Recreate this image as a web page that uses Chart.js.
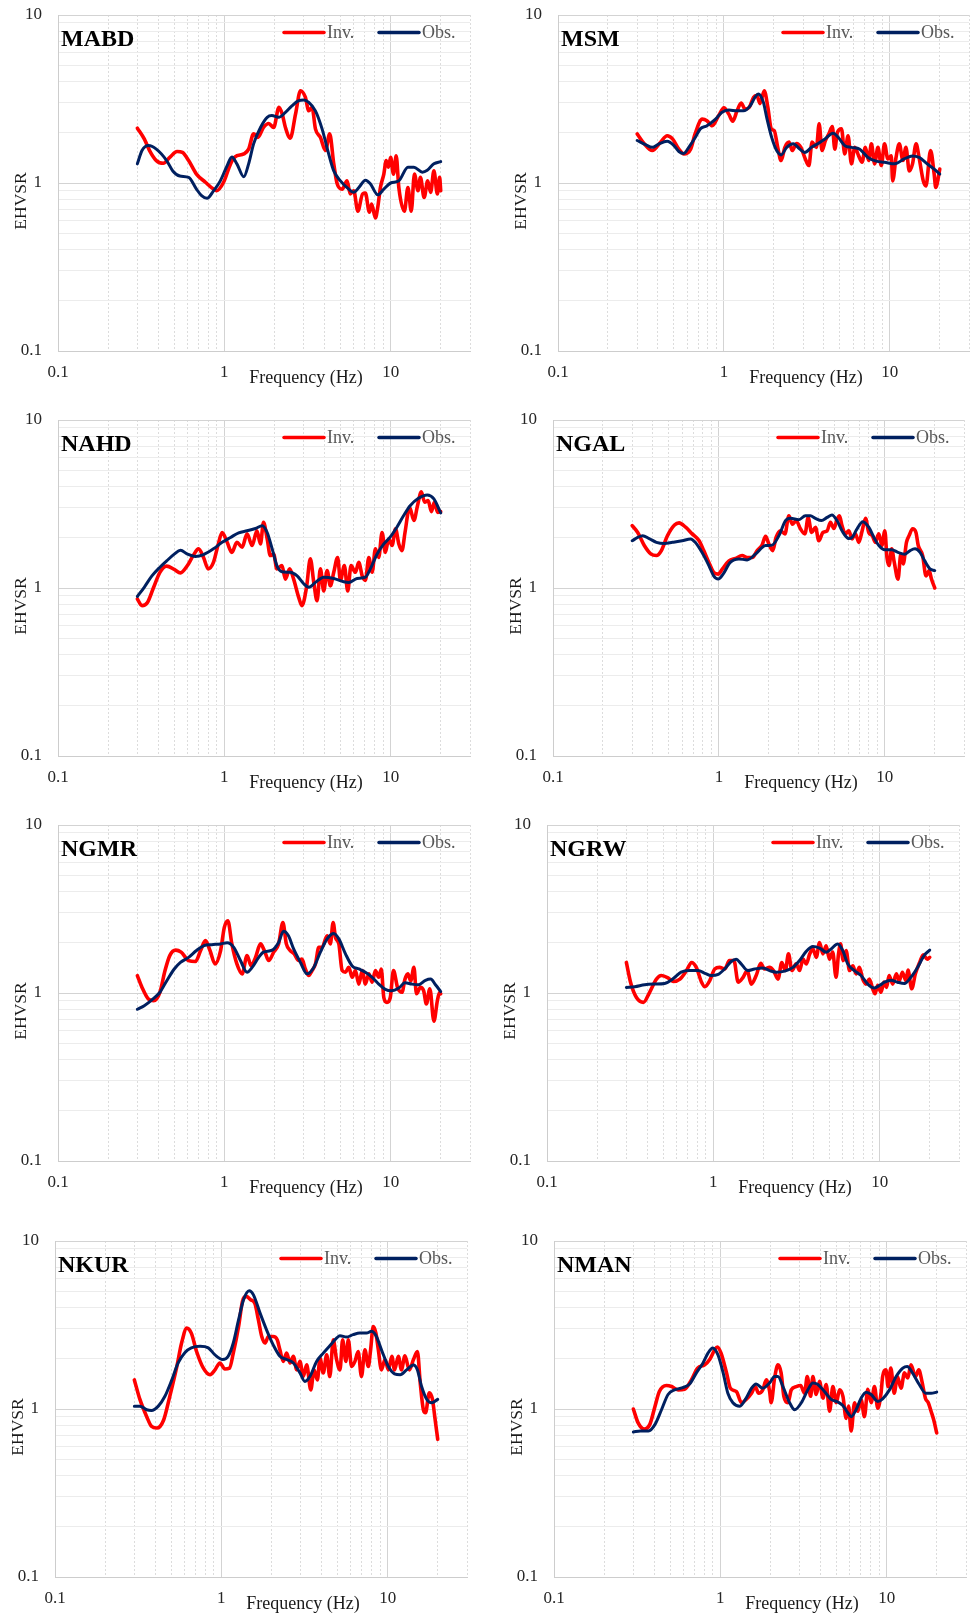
<!DOCTYPE html>
<html>
<head>
<meta charset="utf-8">
<title>EHVSR – observed vs. inverted</title>
<script src="https://cdn.jsdelivr.net/npm/chart.js@4.4.1/dist/chart.umd.min.js"></script>
<style>
  html, body { margin: 0; padding: 0; background: #fff; width: 971px; height: 1618px; overflow: hidden; }
  canvas.panel { position: absolute; display: block; }
</style>
</head>
<body>
<script>
// ---- axis ticks -------------------------------------------------------
const freqTicks  = [0.1,0.2,0.3,0.4,0.5,0.6,0.7,0.8,0.9,1,2,3,4,5,6,7,8,9,10,20,30];
const ratioTicks = [0.1,0.2,0.3,0.4,0.5,0.6,0.7,0.8,0.9,1,2,3,4,5,6,7,8,9,10];
const tickLabels = ['0.1', '1', '10'];
const seriesNames = ['Inv.', 'Obs.'];
const stations = ['MABD', 'MSM', 'NAHD', 'NGAL', 'NGMR', 'NGRW', 'NKUR', 'NMAN'];

// ---- spectral ratios: [frequency (Hz), EHVSR] --------------------------
const mabdObs = [[0.3,1.30],[0.32,1.56],[0.35,1.67],[0.39,1.59],[0.45,1.36],[0.49,1.18],[0.54,1.10],[0.61,1.08],[0.68,0.92],[0.73,0.84],[0.787,0.81],[0.863,0.90],[0.946,1.03],[1.04,1.27],[1.11,1.43],[1.19,1.30],[1.31,1.09],[1.40,1.30],[1.50,1.71],[1.65,2.14],[1.81,2.46],[1.93,2.52],[2.12,2.46],[2.33,2.63],[2.55,2.88],[2.80,3.09],[3.0,3.12],[3.22,3.02],[3.53,2.69],[3.87,2.10],[4.24,1.49],[4.55,1.18],[4.99,1.03],[5.6,0.92],[6.0,0.88],[6.44,0.94],[7.05,1.04],[7.55,0.99],[8.37,0.85],[9.1,0.92],[10,1.0],[11.2,1.03],[12.7,1.24],[13.8,1.24],[15.5,1.16],[16.6,1.19],[18.2,1.30],[20,1.34]];
const mabdInv = [[0.3,2.12],[0.33,1.83],[0.36,1.52],[0.39,1.36],[0.43,1.31],[0.47,1.42],[0.52,1.54],[0.56,1.52],[0.61,1.36],[0.68,1.13],[0.77,1.01],[0.86,0.92],[0.90,0.90],[0.99,1.01],[1.09,1.30],[1.16,1.43],[1.31,1.49],[1.40,1.59],[1.50,1.96],[1.59,1.87],[1.72,2.14],[1.85,2.26],[1.98,2.14],[2.13,2.82],[2.23,2.57],[2.33,2.14],[2.49,1.85],[2.68,2.57],[2.87,3.54],[3.07,3.24],[3.22,2.69],[3.37,2.82],[3.53,2.10],[3.78,1.87],[4.06,1.56],[4.30,1.96],[4.55,1.30],[4.77,0.99],[5.11,0.92],[5.47,1.03],[5.72,0.86],[6.0,0.90],[6.35,0.68],[6.78,0.86],[7.05,0.87],[7.45,0.67],[7.68,0.75],[8.1,0.62],[8.37,0.72],[8.68,0.94],[9.1,1.13],[9.4,1.36],[9.7,1.24],[10,1.42],[10.4,1.13],[10.8,1.45],[11.2,0.94],[12.1,0.68],[12.7,0.94],[13.3,0.68],[13.9,1.13],[14.6,0.90],[15.1,1.08],[15.9,0.82],[16.7,1.03],[17.4,0.88],[18.2,1.18],[19.1,0.86],[19.7,1.08],[20,0.90]];

const msmObs = [[0.3,1.79],[0.337,1.69],[0.37,1.63],[0.406,1.71],[0.455,1.77],[0.5,1.67],[0.535,1.54],[0.573,1.50],[0.614,1.63],[0.673,1.87],[0.72,2.10],[0.79,2.19],[0.89,2.40],[0.97,2.63],[1.07,2.72],[1.20,2.69],[1.31,2.69],[1.44,2.88],[1.54,3.24],[1.61,3.39],[1.73,3.02],[1.81,2.46],[1.94,1.87],[2.08,1.56],[2.21,1.47],[2.39,1.63],[2.62,1.71],[2.87,1.59],[3.07,1.52],[3.37,1.63],[3.70,1.72],[4.06,1.83],[4.55,1.98],[4.88,1.87],[5.35,1.67],[5.87,1.63],[6.59,1.59],[7.39,1.42],[8.28,1.35],[9.29,1.33],[10.7,1.30],[12.2,1.39],[13.7,1.45],[15.0,1.42],[16.8,1.30],[18.5,1.21],[20,1.13]];
const msmInv = [[0.3,1.96],[0.33,1.72],[0.37,1.56],[0.415,1.75],[0.455,1.91],[0.49,1.83],[0.535,1.59],[0.573,1.49],[0.63,1.59],[0.67,1.96],[0.74,2.40],[0.79,2.35],[0.85,2.19],[0.93,2.52],[1.0,2.80],[1.07,2.57],[1.13,2.33],[1.20,2.69],[1.27,2.99],[1.34,2.76],[1.42,2.82],[1.51,3.24],[1.58,3.31],[1.65,2.97],[1.75,3.54],[1.84,2.82],[1.93,2.10],[2.01,2.05],[2.11,1.63],[2.21,1.36],[2.33,1.63],[2.47,1.75],[2.58,1.56],[2.74,1.72],[2.91,1.63],[3.07,1.42],[3.25,1.27],[3.40,1.75],[3.61,1.63],[3.75,2.25],[3.90,1.56],[4.09,1.79],[4.29,1.96],[4.50,2.17],[4.66,1.59],[4.83,2.0],[5.11,2.10],[5.35,1.49],[5.60,1.91],[5.87,1.30],[6.15,1.63],[6.49,1.45],[6.80,1.33],[7.12,1.63],[7.45,1.36],[7.74,1.71],[8.10,1.30],[8.48,1.63],[8.88,1.27],[9.29,1.71],[9.73,1.39],[10.2,1.45],[10.4,1.03],[10.9,1.42],[11.4,1.71],[12.0,1.36],[12.5,1.63],[13.1,1.18],[13.7,1.30],[14.4,1.71],[15.0,1.42],[15.9,1.03],[16.5,0.96],[17.6,1.56],[18.5,1.13],[18.9,0.94],[20,1.21]];

const nahdObs = [[0.3,0.89],[0.33,1.01],[0.367,1.18],[0.41,1.33],[0.45,1.45],[0.5,1.59],[0.545,1.68],[0.60,1.59],[0.67,1.54],[0.75,1.58],[0.86,1.71],[0.97,1.87],[1.09,2.0],[1.22,2.13],[1.37,2.19],[1.54,2.26],[1.69,2.35],[1.81,2.14],[1.94,1.71],[2.07,1.36],[2.22,1.25],[2.49,1.24],[2.74,1.18],[3.0,1.06],[3.22,1.01],[3.53,1.08],[3.96,1.16],[4.55,1.14],[5.22,1.09],[5.6,1.08],[6.28,1.14],[7.05,1.16],[7.55,1.30],[8.28,1.59],[9.1,1.83],[9.9,2.0],[10.9,2.30],[11.95,2.69],[13.1,3.09],[14.7,3.42],[16.6,3.58],[18.2,3.39],[20,2.80]];
const nahdInv = [[0.3,0.86],[0.32,0.785],[0.345,0.82],[0.376,1.01],[0.41,1.24],[0.45,1.35],[0.5,1.29],[0.545,1.23],[0.60,1.36],[0.65,1.56],[0.70,1.71],[0.75,1.52],[0.80,1.30],[0.86,1.42],[0.92,1.83],[0.97,2.14],[1.04,1.87],[1.11,1.63],[1.19,1.87],[1.28,1.75],[1.37,2.10],[1.47,1.79],[1.57,2.19],[1.65,1.83],[1.72,2.46],[1.81,1.96],[1.89,1.56],[1.98,1.59],[2.07,1.30],[2.22,1.36],[2.33,1.13],[2.47,1.30],[2.61,1.13],[2.80,0.88],[2.93,0.785],[3.12,1.01],[3.29,1.49],[3.45,1.08],[3.61,0.84],[3.78,1.30],[3.96,0.96],[4.15,1.27],[4.34,1.03],[4.55,1.24],[4.8,1.52],[4.99,1.11],[5.27,1.36],[5.52,0.96],[5.78,1.36],[6.14,1.24],[6.43,1.42],[6.75,1.18],[7.05,1.11],[7.39,1.52],[7.74,1.24],[8.1,1.71],[8.48,1.52],[8.88,2.14],[9.29,1.63],[9.73,1.96],[10.2,1.79],[10.7,2.25],[11.2,1.83],[11.7,1.67],[12.2,2.14],[13.0,3.02],[13.8,2.52],[14.5,3.09],[15.3,3.74],[16.0,3.24],[16.8,3.31],[17.6,2.85],[18.3,3.24],[19.2,2.82],[20,2.85]];

const ngalObs = [[0.3,1.91],[0.324,2.0],[0.347,2.05],[0.38,1.97],[0.42,1.87],[0.47,1.84],[0.525,1.87],[0.60,1.91],[0.675,1.96],[0.72,1.87],[0.79,1.63],[0.87,1.36],[0.93,1.18],[0.99,1.13],[1.06,1.21],[1.17,1.42],[1.32,1.49],[1.48,1.47],[1.66,1.59],[1.91,1.79],[2.09,1.80],[2.30,2.05],[2.52,2.52],[2.70,2.60],[3.03,2.55],[3.32,2.69],[3.56,2.69],[3.81,2.60],[4.15,2.52],[4.49,2.63],[4.80,2.72],[5.15,2.52],[5.52,2.19],[6.06,1.97],[6.35,2.0],[6.8,2.25],[7.36,2.48],[8.0,2.30],[8.6,2.0],[9.2,1.79],[10.0,1.69],[11.0,1.69],[12.0,1.63],[13.2,1.59],[14.2,1.67],[15.2,1.71],[16.3,1.63],[17.4,1.45],[18.7,1.30],[20,1.27]];
const ngalInv = [[0.3,2.35],[0.324,2.14],[0.355,1.79],[0.39,1.59],[0.42,1.56],[0.45,1.67],[0.49,2.05],[0.54,2.37],[0.575,2.44],[0.63,2.30],[0.69,2.10],[0.76,1.91],[0.81,1.67],[0.87,1.42],[0.93,1.24],[0.99,1.21],[1.05,1.30],[1.15,1.45],[1.26,1.50],[1.38,1.56],[1.48,1.52],[1.59,1.52],[1.70,1.67],[1.82,1.80],[1.91,2.03],[2.0,1.83],[2.11,1.67],[2.21,2.0],[2.35,2.19],[2.50,2.10],[2.64,2.69],[2.77,2.40],[2.92,2.52],[3.10,2.25],[3.30,2.10],[3.45,2.63],[3.62,2.14],[3.82,2.30],[4.0,1.91],[4.23,2.14],[4.49,2.19],[4.70,2.46],[4.93,2.26],[5.16,2.57],[5.33,2.69],[5.52,2.35],[5.78,2.10],[6.06,2.19],[6.35,1.96],[6.65,2.10],[6.97,1.87],[7.30,2.19],[7.65,2.60],[8.0,2.14],[8.4,2.05],[8.75,1.87],[9.2,2.10],[9.6,1.79],[10.0,2.19],[10.3,1.52],[10.6,1.36],[11.0,1.71],[11.4,1.42],[12.0,1.13],[12.5,1.59],[12.9,1.39],[13.5,1.87],[14.0,2.05],[14.7,2.25],[15.4,2.14],[15.9,1.79],[16.9,1.56],[17.7,1.18],[18.5,1.27],[19.1,1.13],[20,1.0]];

const ngmrObs = [[0.3,0.80],[0.33,0.84],[0.367,0.91],[0.41,1.01],[0.45,1.18],[0.5,1.39],[0.545,1.52],[0.61,1.63],[0.68,1.79],[0.75,1.91],[0.84,1.94],[0.95,1.96],[1.04,1.99],[1.14,1.87],[1.25,1.56],[1.37,1.33],[1.47,1.42],[1.61,1.63],[1.72,1.75],[1.94,1.80],[2.12,2.0],[2.27,2.33],[2.43,2.19],[2.61,1.83],[2.87,1.52],[3.14,1.30],[3.45,1.42],[3.78,1.75],[4.15,2.10],[4.55,2.26],[4.88,2.10],[5.35,1.71],[5.87,1.45],[6.44,1.39],[7.05,1.33],[7.74,1.24],[8.48,1.13],[9.29,1.05],[10.1,1.03],[11.2,1.07],[12.2,1.15],[13.4,1.13],[14.7,1.12],[16.2,1.19],[17.4,1.21],[18.6,1.12],[20,1.02]];
const ngmrInv = [[0.3,1.27],[0.32,1.08],[0.35,0.92],[0.376,0.90],[0.41,1.01],[0.44,1.36],[0.47,1.67],[0.51,1.80],[0.55,1.75],[0.61,1.56],[0.67,1.54],[0.72,1.79],[0.77,2.05],[0.82,1.79],[0.88,1.49],[0.95,1.79],[1.0,2.46],[1.05,2.69],[1.11,1.96],[1.19,1.49],[1.28,1.30],[1.37,1.67],[1.45,1.45],[1.54,1.63],[1.65,1.96],[1.74,1.79],[1.85,1.56],[1.98,1.75],[2.12,1.96],[2.25,2.63],[2.36,1.96],[2.49,1.79],[2.63,1.71],[2.80,1.56],[2.93,1.59],[3.07,1.39],[3.22,1.27],[3.37,1.36],[3.53,1.49],[3.70,1.87],[3.87,1.87],[4.15,2.19],[4.34,1.96],[4.51,2.63],[4.66,2.14],[4.88,1.96],[5.11,1.36],[5.35,1.33],[5.6,1.42],[5.87,1.24],[6.14,1.36],[6.44,1.13],[6.75,1.36],[7.05,1.13],[7.39,1.30],[7.74,1.16],[8.1,1.36],[8.48,1.24],[8.78,1.39],[9.1,0.94],[9.5,0.88],[9.95,0.94],[10.4,1.36],[11.0,1.08],[11.7,1.01],[12.2,1.21],[12.7,1.30],[13.2,1.18],[13.8,1.42],[14.3,0.99],[15.1,1.08],[15.8,1.03],[16.4,0.86],[17.2,1.06],[18.2,0.68],[19.1,0.90],[19.7,1.01],[20,0.99]];

const ngrwObs = [[0.3,1.08],[0.337,1.09],[0.387,1.12],[0.44,1.13],[0.51,1.14],[0.57,1.21],[0.64,1.33],[0.72,1.36],[0.81,1.36],[0.89,1.31],[0.97,1.27],[1.07,1.29],[1.17,1.39],[1.28,1.54],[1.37,1.59],[1.47,1.49],[1.61,1.36],[1.77,1.39],[1.99,1.41],[2.18,1.36],[2.39,1.33],[2.69,1.35],[3.01,1.42],[3.30,1.56],[3.62,1.77],[3.97,1.89],[4.35,1.85],[4.77,1.75],[5.11,1.83],[5.6,1.96],[6.0,1.79],[6.43,1.49],[7.05,1.36],[7.73,1.27],[8.48,1.13],[9.29,1.07],[10.0,1.11],[10.7,1.16],[11.7,1.19],[12.8,1.16],[14.1,1.14],[15.4,1.24],[16.9,1.42],[18.5,1.67],[20,1.80]];
const ngrwInv = [[0.3,1.52],[0.32,1.13],[0.345,0.94],[0.38,0.88],[0.414,1.01],[0.455,1.21],[0.487,1.27],[0.534,1.23],[0.573,1.17],[0.63,1.21],[0.69,1.36],[0.74,1.52],[0.79,1.42],[0.85,1.16],[0.89,1.09],[0.95,1.18],[1.02,1.39],[1.09,1.42],[1.17,1.39],[1.25,1.56],[1.33,1.56],[1.41,1.16],[1.51,1.24],[1.60,1.36],[1.69,1.13],[1.81,1.27],[1.93,1.50],[2.03,1.39],[2.18,1.42],[2.31,1.35],[2.45,1.21],[2.58,1.52],[2.71,1.36],[2.83,1.71],[2.97,1.36],[3.15,1.49],[3.30,1.36],[3.46,1.59],[3.62,1.49],[3.80,1.71],[3.97,1.83],[4.16,1.63],[4.35,2.0],[4.56,1.71],[4.77,1.91],[4.99,1.59],[5.22,1.75],[5.47,1.24],[5.66,1.71],[5.82,1.96],[6.04,1.56],[6.29,1.79],[6.59,1.36],[6.90,1.45],[7.22,1.30],[7.56,1.42],[7.91,1.21],[8.28,1.13],[8.67,1.21],[9.08,1.06],[9.38,0.99],[9.73,1.11],[10.2,1.01],[10.6,1.16],[11.0,1.08],[11.4,1.27],[12.0,1.13],[12.6,1.30],[13.1,1.18],[13.7,1.33],[14.4,1.18],[14.8,1.37],[15.6,1.06],[16.4,1.30],[17.4,1.52],[18.3,1.69],[19.3,1.59],[20,1.63]];

const nkurObs = [[0.3,1.04],[0.324,1.04],[0.356,0.99],[0.38,0.98],[0.418,1.04],[0.458,1.19],[0.50,1.46],[0.55,1.88],[0.605,2.17],[0.66,2.31],[0.745,2.36],[0.835,2.31],[0.916,2.10],[1.02,1.97],[1.10,2.06],[1.18,2.47],[1.27,3.40],[1.36,4.47],[1.47,5.06],[1.56,4.78],[1.71,3.72],[1.87,2.96],[2.05,2.41],[2.25,2.06],[2.47,1.97],[2.71,1.88],[2.97,1.64],[3.18,1.46],[3.41,1.56],[3.74,1.92],[4.10,2.15],[4.49,2.38],[4.93,2.64],[5.17,2.73],[5.66,2.68],[6.20,2.77],[6.81,2.83],[7.46,2.83],[7.99,2.90],[8.56,2.70],[9.18,2.25],[10.1,1.79],[11.0,1.62],[11.9,1.60],[13.0,1.71],[14.3,1.83],[15.1,1.71],[16.0,1.36],[17.2,1.14],[18.4,1.09],[20,1.14]];
const nkurInv = [[0.3,1.49],[0.324,1.14],[0.356,0.90],[0.38,0.79],[0.41,0.77],[0.45,0.86],[0.49,1.19],[0.54,1.79],[0.577,2.47],[0.62,3.03],[0.66,2.83],[0.71,2.20],[0.78,1.75],[0.855,1.60],[0.916,1.71],[0.98,1.88],[1.05,1.73],[1.12,1.75],[1.18,2.15],[1.27,3.10],[1.34,4.37],[1.41,4.68],[1.50,4.47],[1.59,4.26],[1.67,3.40],[1.75,2.70],[1.83,2.47],[1.92,2.70],[2.05,2.70],[2.17,2.58],[2.25,2.25],[2.36,1.92],[2.47,2.15],[2.59,1.88],[2.71,2.06],[2.84,1.71],[2.97,1.92],[3.11,1.56],[3.26,1.83],[3.45,1.30],[3.61,1.71],[3.78,1.49],[3.92,2.01],[4.10,1.64],[4.30,2.10],[4.49,1.56],[4.71,2.58],[4.93,1.97],[5.17,1.71],[5.36,2.58],[5.61,1.92],[5.80,2.58],[6.07,1.79],[6.36,1.92],[6.65,2.20],[6.96,1.56],[7.30,2.25],[7.65,1.79],[7.90,2.25],[8.19,3.10],[8.50,2.83],[8.79,2.25],[9.18,1.71],[9.63,1.97],[10.1,1.71],[10.6,2.06],[11.0,1.71],[11.6,2.06],[12.1,1.71],[12.7,2.07],[13.5,1.71],[14.3,1.97],[15.1,2.20],[15.7,1.43],[16.4,0.99],[16.9,0.95],[17.8,1.25],[18.6,1.14],[19.2,0.90],[20,0.66]];

const nmanObs = [[0.3,0.73],[0.33,0.74],[0.37,0.74],[0.405,0.81],[0.443,0.99],[0.485,1.22],[0.53,1.30],[0.58,1.33],[0.654,1.41],[0.718,1.64],[0.787,1.88],[0.843,2.15],[0.90,2.31],[0.968,2.10],[1.04,1.64],[1.11,1.24],[1.19,1.09],[1.31,1.04],[1.43,1.16],[1.54,1.33],[1.64,1.41],[1.80,1.33],[1.98,1.43],[2.12,1.56],[2.22,1.56],[2.38,1.36],[2.61,1.09],[2.80,0.99],[3.07,1.09],[3.36,1.30],[3.60,1.43],[3.86,1.40],[4.23,1.27],[4.64,1.14],[5.09,1.10],[5.45,1.05],[5.84,0.95],[6.12,0.90],[6.55,0.99],[7.02,1.16],[7.53,1.26],[8.07,1.22],[8.84,1.11],[9.46,1.15],[10.4,1.30],[11.4,1.56],[12.5,1.75],[13.3,1.79],[14.3,1.64],[15.7,1.40],[17.2,1.24],[18.5,1.24],[20,1.26]];
const nmanInv = [[0.3,1.0],[0.32,0.83],[0.348,0.76],[0.377,0.81],[0.405,1.04],[0.43,1.27],[0.474,1.38],[0.51,1.36],[0.557,1.30],[0.61,1.31],[0.67,1.49],[0.73,1.75],[0.805,1.83],[0.863,1.97],[0.925,2.25],[0.96,2.34],[1.01,2.15],[1.09,1.64],[1.15,1.33],[1.25,1.27],[1.34,1.09],[1.43,1.14],[1.54,1.24],[1.62,1.36],[1.70,1.24],[1.80,1.30],[1.89,1.49],[1.98,1.27],[2.02,1.09],[2.12,1.53],[2.22,1.83],[2.32,1.64],[2.41,1.19],[2.55,1.09],[2.67,1.30],[2.86,1.36],[3.04,1.38],[3.21,1.24],[3.33,1.56],[3.49,1.19],[3.60,1.56],[3.77,1.22],[3.95,1.46],[4.14,1.16],[4.33,1.40],[4.54,0.97],[4.75,1.36],[4.98,1.09],[5.21,1.30],[5.46,1.19],[5.71,0.88],[5.90,1.04],[6.12,0.74],[6.41,1.09],[6.71,0.97],[7.02,1.14],[7.35,0.90],[7.70,1.31],[8.07,1.09],[8.45,1.36],[8.84,1.01],[9.25,1.24],[9.46,1.56],[9.9,1.71],[10.2,1.36],[10.6,1.75],[11.1,1.24],[11.6,1.56],[12.2,1.33],[12.8,1.64],[13.4,1.53],[14.0,1.83],[14.9,1.56],[15.6,1.71],[16.3,1.46],[17.1,1.16],[17.8,1.09],[18.5,0.97],[19.2,0.86],[20,0.72]];

const stationSeries = {
  MABD: [mabdInv, mabdObs], MSM: [msmInv, msmObs], NAHD: [nahdInv, nahdObs], NGAL: [ngalInv, ngalObs],
  NGMR: [ngmrInv, ngmrObs], NGRW: [ngrwInv, ngrwObs], NKUR: [nkurInv, nkurObs], NMAN: [nmanInv, nmanObs]
};

// ---- page layout: plot-area box of each panel (px) ---------------------
const plotBoxes = [
  {left: 58,  top: 15,   width: 412, height: 336},
  {left: 558, top: 15,   width: 411, height: 336},
  {left: 58,  top: 420,  width: 412, height: 336},
  {left: 553, top: 420,  width: 411, height: 336},
  {left: 58,  top: 825,  width: 412, height: 336},
  {left: 547, top: 825,  width: 412, height: 336},
  {left: 55,  top: 1241, width: 412, height: 336},
  {left: 554, top: 1241, width: 412, height: 336}
];
// room around the plot area for tick labels and titles; top/right are
// generous so the scales' own label padding never pushes the plot inward
const MARGIN = {left: 58, top: 32, right: 16, bottom: 40};

const SERIF = '"Liberation Serif", "Times New Roman", serif';
const lineColors = ['#ff0000', '#002060'];
const lineWidths = [3.6, 3];

function isDecade(v) {
  const l = Math.log10(v);
  return Math.abs(l - Math.round(l)) < 1e-9;
}
function decadeLabel(v) {
  return isDecade(v) ? tickLabels[Math.round(Math.log10(v)) + 1] : '';
}

// station name, in-plot legend and axis titles
const panelText = {
  id: 'panelText',
  afterDraw(chart, args, opts) {
    const ctx = chart.ctx;
    const a = chart.chartArea;
    ctx.save();

    ctx.fillStyle = '#000';
    ctx.font = 'bold 24px ' + SERIF;
    ctx.textAlign = 'left';
    ctx.textBaseline = 'alphabetic';
    ctx.fillText(opts.station, a.left + 3, a.top + 31);

    const legendY = a.top + 17.5;
    const starts = [a.right - 186, a.right - 91];
    ctx.font = '18px ' + SERIF;
    ctx.textBaseline = 'middle';
    chart.data.datasets.forEach((ds, i) => {
      ctx.strokeStyle = ds.borderColor;
      ctx.lineWidth = 3.5;
      ctx.lineCap = 'round';
      ctx.beginPath();
      ctx.moveTo(starts[i], legendY);
      ctx.lineTo(starts[i] + 40, legendY);
      ctx.stroke();
      ctx.fillStyle = '#595959';
      ctx.fillText(ds.label, starts[i] + 43, legendY + 0.5);
    });

    ctx.fillStyle = '#1a1a1a';
    ctx.font = '18px ' + SERIF;
    ctx.textAlign = 'center';
    ctx.textBaseline = 'middle';
    ctx.fillText('Frequency (Hz)', a.left + 248, a.bottom + 27.5);

    ctx.save();
    ctx.translate(a.left - 37, a.top + 186);
    ctx.rotate(-Math.PI / 2);
    ctx.font = '17.5px ' + SERIF;
    ctx.fillText('EHVSR', 0, 0);
    ctx.restore();

    ctx.restore();
  }
};

function logAxis(tickValues, isX) {
  return {
    type: 'logarithmic',
    min: 0.1,
    max: isX ? 30 : 10,
    afterBuildTicks: (scale) => {
      scale.ticks = tickValues.map(v => ({value: v, major: false}));
    },
    afterFit: (scale) => {
      if (isX) scale.height = MARGIN.bottom; else scale.width = MARGIN.left;
    },
    ticks: {
      autoSkip: false,
      maxRotation: 0,
      minRotation: 0,
      padding: isX ? 11 : 16,
      color: '#262626',
      font: {family: SERIF, size: 17},
      callback: (v) => decadeLabel(v)
    },
    grid: {
      drawTicks: false,
      lineWidth: 1,
      color: (c) => (c.tick && isDecade(c.tick.value)) ? '#d3d3d3' : (isX ? '#dcdcdc' : '#ececec')
    },
    border: {
      display: true,
      color: '#cdcdcd',
      width: 1,
      dash: (c) => (isX && c.tick && !isDecade(c.tick.value)) ? [2, 2] : []
    }
  };
}

stations.forEach((name, idx) => {
  const box = plotBoxes[idx];
  const canvas = document.createElement('canvas');
  canvas.className = 'panel';
  const w = box.width + MARGIN.left + MARGIN.right;
  const h = box.height + MARGIN.top + MARGIN.bottom;
  canvas.width = w;
  canvas.height = h;
  canvas.style.width = w + 'px';
  canvas.style.height = h + 'px';
  canvas.style.left = (box.left - MARGIN.left) + 'px';
  canvas.style.top = (box.top - MARGIN.top) + 'px';
  document.body.appendChild(canvas);

  const series = stationSeries[name];
  new Chart(canvas, {
    type: 'line',
    data: {
      datasets: series.map((pts, i) => ({
        label: seriesNames[i],
        data: pts.map(p => ({x: p[0], y: p[1]})),
        borderColor: lineColors[i],
        borderWidth: lineWidths[i],
        pointRadius: 0,
        pointHoverRadius: 0,
        fill: false,
        cubicInterpolationMode: 'monotone',
        borderJoinStyle: 'round',
        borderCapStyle: 'round',
        order: i === 0 ? 2 : 1
      }))
    },
    options: {
      responsive: false,
      animation: false,
      devicePixelRatio: 1,
      layout: {padding: {left: 0, top: MARGIN.top, right: MARGIN.right, bottom: 0}},
      scales: {
        x: logAxis(freqTicks, true),
        y: logAxis(ratioTicks, false)
      },
      plugins: {
        legend: {display: false},
        tooltip: {enabled: false},
        title: {display: false},
        panelText: {station: name}
      },
      events: []
    },
    plugins: [panelText]
  });
});
</script>
</body>
</html>
